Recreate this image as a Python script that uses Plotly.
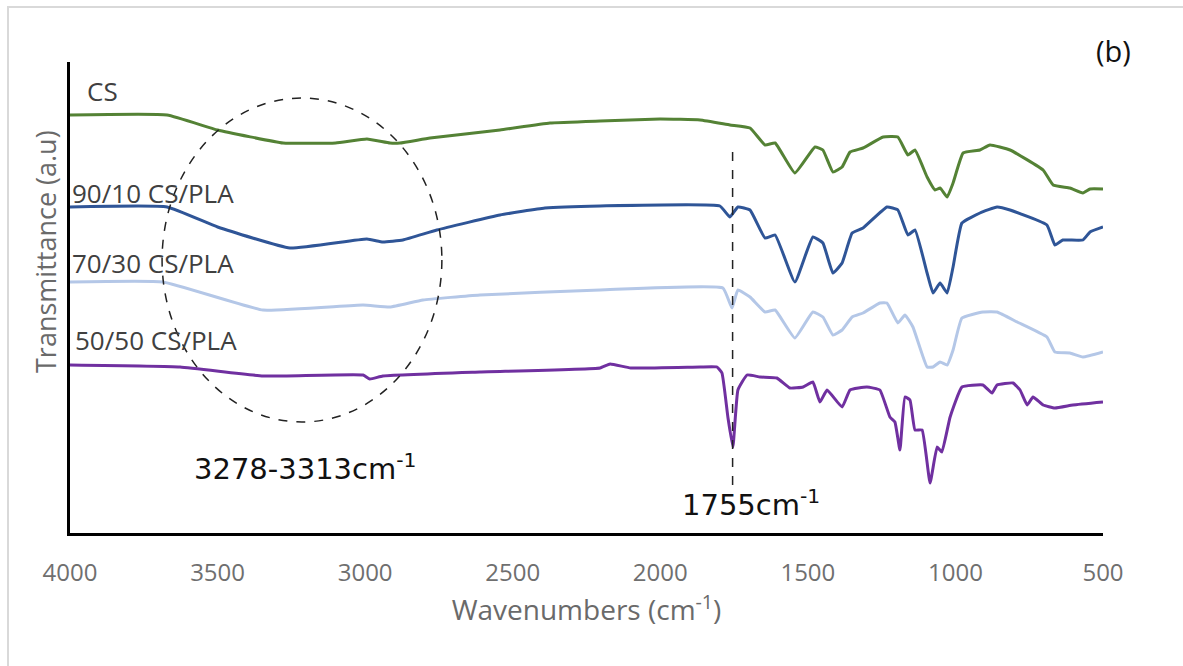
import plotly.graph_objects as go

# ---------------- data ----------------
cs_x = [4000, 3671, 3500, 3278, 3100, 2994, 2916, 2882, 2780, 2543, 2374, 2204, 2001, 1865, 1764, 1696,
        1645, 1611, 1544, 1476, 1449, 1415, 1384, 1357, 1313, 1245, 1195, 1161, 1137, 1096, 1069, 1052,
        1028, 1008, 974, 917, 883, 815, 703, 669, 612, 568, 544, 500]
cs_y = [4.18, 4.18, 4.03, 3.90, 3.90, 3.94, 3.90, 3.90, 3.95, 4.03, 4.10, 4.12, 4.14, 4.13, 4.08, 4.05,
        3.88, 3.90, 3.60, 3.86, 3.83, 3.61, 3.66, 3.81, 3.85, 3.96, 3.96, 3.78, 3.83, 3.56, 3.43, 3.45,
        3.36, 3.50, 3.80, 3.83, 3.88, 3.83, 3.63, 3.48, 3.45, 3.40, 3.44, 3.44]

b90_x = [4000, 3671, 3500, 3255, 2994, 2940, 2872, 2757, 2543, 2391, 2204, 1798, 1764, 1737, 1696, 1645,
         1611, 1544, 1483, 1449, 1415, 1384, 1350, 1313, 1232, 1195, 1161, 1137, 1096, 1076, 1052, 1028,
         1008, 978, 917, 859, 815, 690, 663, 636, 568, 544, 500]
b90_y = [3.26, 3.26, 3.06, 2.85, 2.94, 2.91, 2.93, 3.03, 3.18, 3.25, 3.27, 3.27, 3.16, 3.26, 3.23, 2.95,
         2.98, 2.51, 2.96, 2.90, 2.60, 2.70, 3.00, 3.05, 3.26, 3.23, 2.98, 3.03, 2.60, 2.40, 2.50, 2.40,
         2.66, 3.10, 3.20, 3.26, 3.23, 3.08, 2.88, 2.93, 2.93, 3.01, 3.06]

b70_x = [4000, 3685, 3346, 3007, 2916, 2804, 2611, 2204, 1788, 1757, 1737, 1696, 1645, 1611, 1544, 1483,
         1449, 1415, 1384, 1350, 1313, 1256, 1232, 1195, 1171, 1144, 1096, 1076, 1052, 1028, 1008, 978,
         907, 859, 791, 690, 663, 612, 568, 500]
b70_y = [2.51, 2.51, 2.23, 2.28, 2.26, 2.33, 2.38, 2.43, 2.45, 2.25, 2.43, 2.36, 2.21, 2.23, 1.95, 2.21,
         2.16, 1.98, 2.03, 2.16, 2.20, 2.30, 2.30, 2.10, 2.18, 2.06, 1.66, 1.66, 1.71, 1.68, 1.83, 2.15,
         2.21, 2.21, 2.11, 1.96, 1.81, 1.80, 1.76, 1.81]

b50_x = [4000, 3627, 3346, 3007, 2984, 2940, 2611, 2204, 2170, 2100, 1865, 1808, 1791, 1771, 1754, 1737,
         1706, 1662, 1605, 1561, 1516, 1483, 1459, 1435, 1384, 1357, 1300, 1256, 1222, 1205, 1188, 1171,
         1154, 1137, 1113, 1086, 1062, 1046, 1018, 978, 907, 876, 859, 805, 781, 757, 737, 703, 663, 602, 500]
b50_y = [1.68, 1.66, 1.57, 1.58, 1.54, 1.57, 1.61, 1.65, 1.69, 1.65, 1.66, 1.66, 1.60, 1.16, 0.86, 1.43,
         1.58, 1.56, 1.55, 1.45, 1.46, 1.51, 1.31, 1.43, 1.26, 1.43, 1.46, 1.43, 1.16, 1.11, 0.83, 1.36,
         1.33, 1.03, 1.03, 0.50, 0.86, 0.81, 1.16, 1.46, 1.48, 1.40, 1.48, 1.50, 1.43, 1.28, 1.36, 1.28,
         1.25, 1.28, 1.31]

series_names = ["CS", "90/10 CS/PLA", "70/30 CS/PLA", "50/50 CS/PLA"]
x_ticks = [4000, 3500, 3000, 2500, 2000, 1500, 1000, 500]
peak_carbonyl = 1755
oh_band = (3688, 2740)   # extent of the highlighted O-H / N-H band

# ---------------- figure ----------------
colors = ["#548235", "#2F5597", "#B4C7E7", "#7030A0"]
fig = go.Figure()
for (xs, ys), name, c in zip([(cs_x, cs_y), (b90_x, b90_y), (b70_x, b70_y), (b50_x, b50_y)],
                             series_names, colors):
    fig.add_trace(go.Scatter(x=xs, y=ys, mode="lines", name=name,
                             line=dict(color=c, width=3, shape="spline", smoothing=0.35),
                             hoverinfo="skip"))

label_font = dict(family="Open Sans, sans-serif", size=26, color="#404040")
label_pos = [(3950, 4.42), (4000, 3.40), (4000, 2.70), (3990, 1.93)]
for name, (lx, ly) in zip(series_names, label_pos):
    fig.add_annotation(x=lx, y=ly, text=name, showarrow=False, xanchor="left",
                       yanchor="middle", font=label_font)

big_font = dict(family="DejaVu Sans, sans-serif", size=29, color="#111111")
fig.add_annotation(x=3278, y=0.66, text="3278-3313cm<sup>-1</sup>", showarrow=False,
                   xanchor="center", xshift=22, yanchor="middle", font=big_font)
fig.add_annotation(x=peak_carbonyl, y=0.30, text="1755cm<sup>-1</sup>", showarrow=False,
                   xanchor="left", xshift=-53, yanchor="middle", font=big_font)
fig.add_annotation(xref="paper", yref="paper", x=1.0102, y=1.0234, text="(b)", showarrow=False,
                   xanchor="center", yanchor="middle",
                   font=dict(family="Open Sans, sans-serif", size=29, color="#111111"))

# y-axis title (placed as in the reference, slightly above centre)
fig.add_annotation(xref="paper", yref="paper", x=-0.0242, y=0.5966, text="Transmittance (a.u)",
                   textangle=-90, showarrow=False, xanchor="center", yanchor="middle",
                   font=dict(family="Open Sans, sans-serif", size=27, color="#6a6a6a"))

# dashed ellipse and dashed vertical marker
fig.add_shape(type="circle", x0=oh_band[0], x1=oh_band[1], y0=1.11, y1=4.35,
              line=dict(color="#222222", width=1.5, dash="dash"))
fig.add_shape(type="line", x0=peak_carbonyl, x1=peak_carbonyl, y0=0.48, y1=3.85,
              line=dict(color="#222222", width=1.5, dash="dash"))
# outer light frame
fig.add_shape(type="rect", xref="paper", yref="paper", x0=-0.060, x1=1.2, y0=-0.4, y1=1.1168,
              line=dict(color="#d9d9d9", width=2), layer="below")

fig.update_layout(
    width=1183, height=666,
    margin=dict(l=70, r=80, t=62, b=133),
    paper_bgcolor="white", plot_bgcolor="white",
    showlegend=False,
    xaxis=dict(range=[4000, 500], tickvals=x_ticks, ticktext=[str(t) for t in x_ticks],
               showgrid=False, zeroline=False, showline=True, linecolor="black", linewidth=2.5,
               ticks="", ticklen=0, ticklabelstandoff=16,
               tickfont=dict(family="Open Sans, sans-serif", size=24, color="#6f6f6f"),
               title=dict(text="Wavenumbers (cm<sup>-1</sup>)", standoff=12,
                          font=dict(family="Open Sans, sans-serif", size=28, color="#6a6a6a"))),
    yaxis=dict(range=[0, 4.71], showticklabels=False, showgrid=False, zeroline=False,
               showline=True, linecolor="black", linewidth=2.5, ticks=""),
)

fig.write_html("out.html")
